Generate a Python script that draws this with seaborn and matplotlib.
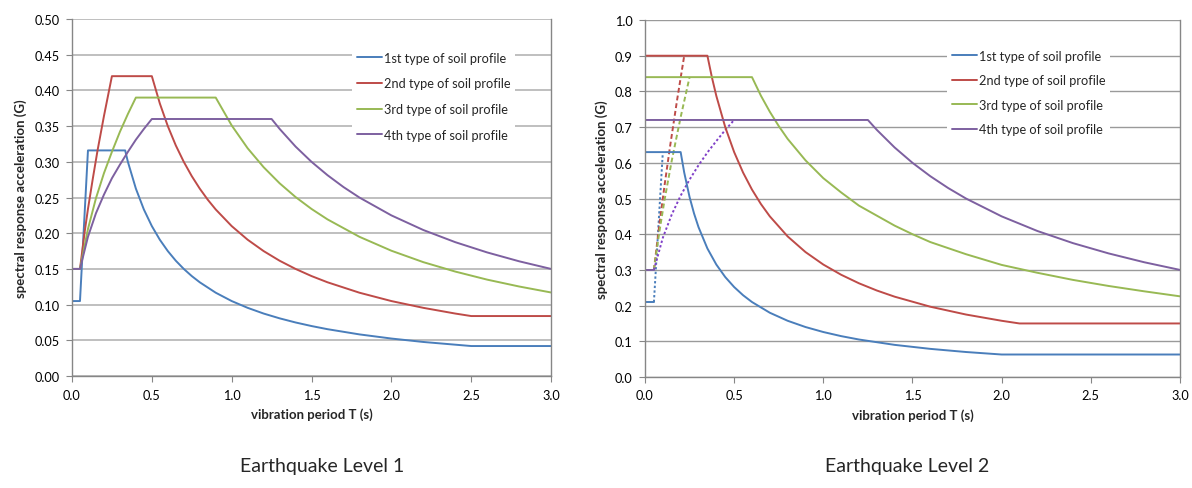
import seaborn as sns
import matplotlib.pyplot as plt
from matplotlib.lines import Line2D

# ---- Earthquake Level 1 (left panel) ----
l1_t1 = [0, 0.05, 0.1, 0.333, 0.35, 0.4, 0.45, 0.5, 0.55, 0.6, 0.65, 0.7, 0.75, 0.8, 0.9, 1.0, 1.1,
         1.2, 1.3, 1.4, 1.5, 1.6, 1.8, 2.0, 2.2, 2.5, 3.0]
l1_s1 = [0.105, 0.105, 0.316, 0.316, 0.30, 0.2625, 0.2333, 0.21, 0.1909, 0.175, 0.1615, 0.15, 0.14,
         0.1313, 0.1167, 0.105, 0.0955, 0.0875, 0.0808, 0.075, 0.07, 0.0656, 0.0583, 0.0525, 0.0477,
         0.042, 0.042]

l1_t2 = [0, 0.05, 0.08, 0.1, 0.13, 0.16, 0.2, 0.25, 0.5, 0.55, 0.6, 0.65, 0.7, 0.75, 0.8, 0.85, 0.9,
         1.0, 1.1, 1.2, 1.3, 1.4, 1.5, 1.6, 1.8, 2.0, 2.2, 2.4, 2.5, 3.0]
l1_s2 = [0.15, 0.15, 0.203, 0.234, 0.276, 0.316, 0.364, 0.42, 0.42, 0.3818, 0.35, 0.323, 0.30, 0.28,
         0.2625, 0.247, 0.2333, 0.21, 0.1909, 0.175, 0.1615, 0.15, 0.14, 0.1313, 0.1167, 0.105,
         0.0955, 0.0875, 0.084, 0.084]

l1_t3 = [0, 0.05, 0.1, 0.15, 0.2, 0.25, 0.3, 0.35, 0.4, 0.9, 1.0, 1.1, 1.2, 1.3, 1.4, 1.5, 1.6, 1.8,
         2.0, 2.2, 2.4, 2.6, 2.8, 3.0]
l1_s3 = [0.15, 0.15, 0.206, 0.249, 0.284, 0.314, 0.342, 0.367, 0.39, 0.39, 0.351, 0.319, 0.2925,
         0.27, 0.2507, 0.234, 0.2194, 0.195, 0.1755, 0.1595, 0.1463, 0.135, 0.1254, 0.117]

l1_t4 = [0, 0.05, 0.1, 0.15, 0.2, 0.25, 0.3, 0.35, 0.4, 0.45, 0.5, 1.25, 1.3, 1.4, 1.5, 1.6, 1.7, 1.8,
         2.0, 2.2, 2.4, 2.6, 2.8, 3.0]
l1_s4 = [0.15, 0.15, 0.195, 0.228, 0.254, 0.277, 0.296, 0.314, 0.331, 0.346, 0.36, 0.36, 0.3462,
         0.3214, 0.30, 0.2813, 0.2647, 0.25, 0.225, 0.2045, 0.1875, 0.1731, 0.1607, 0.15]

# ---- Earthquake Level 2 (right panel) ----
l2_t1 = [0, 0.2, 0.22, 0.25, 0.275, 0.3, 0.35, 0.4, 0.45, 0.5, 0.55, 0.6, 0.7, 0.8, 0.9, 1.0, 1.1,
         1.2, 1.4, 1.6, 1.8, 2.0, 3.0]
l2_s1 = [0.63, 0.63, 0.5727, 0.504, 0.4582, 0.42, 0.36, 0.315, 0.28, 0.252, 0.2291, 0.21, 0.18,
         0.1575, 0.14, 0.126, 0.1145, 0.105, 0.09, 0.0788, 0.07, 0.063, 0.063]
l2_t1_low = [0, 0.05]
l2_s1_low = [0.21, 0.21]
l2_t1_rise = [0.05, 0.1]
l2_s1_rise = [0.21, 0.63]

l2_t2 = [0, 0.35, 0.375, 0.4, 0.45, 0.5, 0.55, 0.6, 0.65, 0.7, 0.8, 0.9, 1.0, 1.1, 1.2, 1.3, 1.4,
         1.6, 1.8, 2.0, 2.1, 3.0]
l2_s2 = [0.9, 0.9, 0.84, 0.7875, 0.70, 0.63, 0.5727, 0.525, 0.4846, 0.45, 0.3938, 0.35, 0.315,
         0.2864, 0.2625, 0.2423, 0.225, 0.1969, 0.175, 0.1575, 0.15, 0.15]
l2_t2_rise = [0.05, 0.08, 0.11, 0.14, 0.18, 0.22]
l2_s2_rise = [0.3, 0.425, 0.538, 0.644, 0.776, 0.9]

l2_t3 = [0, 0.6, 0.65, 0.7, 0.75, 0.8, 0.9, 1.0, 1.1, 1.2, 1.3, 1.4, 1.5, 1.6, 1.8, 2.0, 2.2, 2.4,
         2.6, 2.8, 3.0]
l2_s3 = [0.84, 0.84, 0.788, 0.743, 0.703, 0.667, 0.607, 0.557, 0.517, 0.48, 0.452, 0.424, 0.40,
         0.378, 0.344, 0.314, 0.292, 0.272, 0.255, 0.24, 0.226]
l2_t3_rise = [0.05, 0.08, 0.11, 0.15, 0.2, 0.25]
l2_s3_rise = [0.3, 0.405, 0.497, 0.606, 0.728, 0.84]

l2_t4 = [0, 1.25, 1.3, 1.4, 1.5, 1.6, 1.7, 1.8, 2.0, 2.2, 2.4, 2.6, 2.8, 3.0]
l2_s4 = [0.72, 0.72, 0.6923, 0.6429, 0.60, 0.5625, 0.5294, 0.50, 0.45, 0.4091, 0.375, 0.3462,
         0.3214, 0.30]
l2_t4_low = [0, 0.05]
l2_s4_low = [0.3, 0.3]
l2_t4_rise = [0.05, 0.1, 0.15, 0.2, 0.25, 0.3, 0.35, 0.4, 0.45, 0.5]
l2_s4_rise = [0.3, 0.39, 0.455, 0.508, 0.553, 0.593, 0.629, 0.661, 0.692, 0.72]

labels = ["1st type of soil profile", "2nd type of soil profile",
          "3rd type of soil profile", "4th type of soil profile"]
colors = ["#4A7EBB", "#BE4B48", "#98B954", "#7D60A0"]
x_ticks = [0.0, 0.5, 1.0, 1.5, 2.0, 2.5, 3.0]

sns.set_style("white")
plt.rcParams["font.family"] = ["Lato", "DejaVu Sans"]

fig = plt.figure(figsize=(11.92, 4.89), dpi=100)
ax1 = fig.add_axes([0.0604, 0.229, 0.4019, 0.730])
ax2 = fig.add_axes([0.5411, 0.227, 0.4488, 0.730])


def line(ax, t, s, color, ls="-"):
    sns.lineplot(x=t, y=s, ax=ax, color=color, linewidth=1.4, linestyle=ls,
                 estimator=None, sort=False, legend=False)


# level 1
for t, s, c in zip([l1_t1, l1_t2, l1_t3, l1_t4], [l1_s1, l1_s2, l1_s3, l1_s4], colors):
    line(ax1, t, s, c)

# level 2 - dotted/dashed rising branches first
line(ax2, l2_t1_rise, l2_s1_rise, colors[0], (0, (1.2, 1.2)))
line(ax2, l2_t2_rise, l2_s2_rise, colors[1], (0, (2.5, 1.5)))
line(ax2, l2_t3_rise, l2_s3_rise, colors[2], (0, (2.5, 1.5)))
line(ax2, l2_t4_rise, l2_s4_rise, "#8040C8", (0, (1.2, 1.2)))
line(ax2, l2_t1_low, l2_s1_low, colors[0])
line(ax2, l2_t4_low, l2_s4_low, colors[3])
for t, s, c in zip([l2_t1, l2_t2, l2_t3, l2_t4], [l2_s1, l2_s2, l2_s3, l2_s4], colors):
    line(ax2, t, s, c)


def style(ax, ymax, ystep, fmt, grid_color, grid_lw, leg_x, leg_y, spacing):
    ax.set_xlim(0, 3.0)
    ax.set_ylim(0, ymax)
    ax.set_xticks(x_ticks)
    ax.set_xticklabels([f"{v:.1f}" for v in x_ticks])
    n = int(round(ymax / ystep))
    yt = [i * ystep for i in range(n + 1)]
    ax.set_yticks(yt)
    ax.set_yticklabels([fmt.format(v) for v in yt])
    ax.yaxis.grid(True, color=grid_color, linewidth=grid_lw)
    ax.set_axisbelow(True)
    for sp in ax.spines.values():
        sp.set_color("#868686")
        sp.set_linewidth(1.0)
    ax.spines["top"].set_visible(False)
    ax.tick_params(axis="both", direction="out", length=4, color="#868686",
                   labelsize=9.2, labelcolor="black", left=True, bottom=True, pad=5)
    ax.set_xlabel("vibration period T (s)", fontsize=9.5, fontweight="bold", labelpad=5)
    ax.set_ylabel("spectral response acceleration (G)", fontsize=9.5, fontweight="bold", labelpad=5)
    handles = [Line2D([0], [0], color=c, lw=1.4) for c in colors]
    leg = ax.legend(handles, labels, loc="upper left", bbox_to_anchor=(leg_x, leg_y),
                    fontsize=9.2, frameon=True, facecolor="white", edgecolor="none",
                    framealpha=1, handlelength=2.0, handletextpad=0.15,
                    labelspacing=spacing, borderpad=0.35, borderaxespad=0)
    leg.get_frame().set_boxstyle("square", pad=0)


style(ax1, 0.5, 0.05, "{:.2f}", "#BFBFBF", 1.4, 0.585, 0.921, 1.07)
style(ax2, 1.0, 0.1, "{:.1f}", "#9A9A9A", 1.0, 0.565, 0.929, 0.97)

fig.text(0.270, 0.035, "Earthquake Level 1", ha="center", fontsize=14)
fig.text(0.761, 0.035, "Earthquake Level 2", ha="center", fontsize=14)

fig.savefig("out.png", dpi=100)
